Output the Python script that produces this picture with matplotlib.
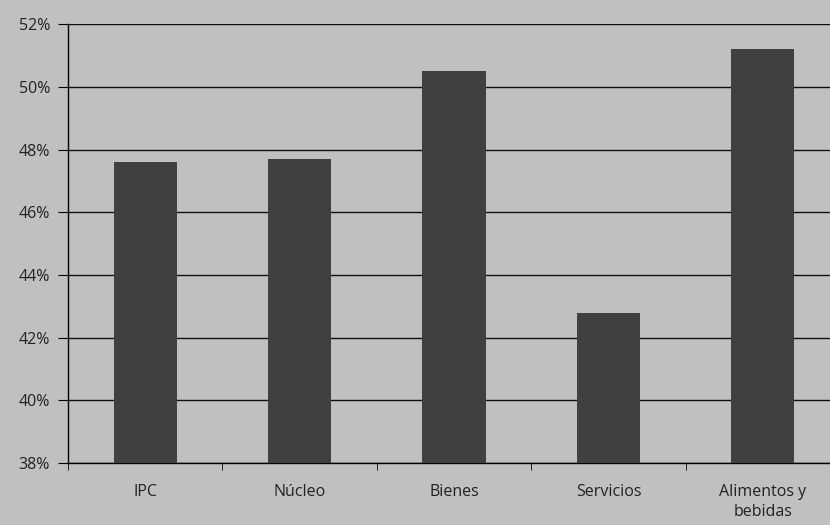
import matplotlib
matplotlib.use('Agg')
import matplotlib.pyplot as plt
from matplotlib.ticker import FuncFormatter, FixedLocator

# Data
categorias = ['IPC', 'Núcleo', 'Bienes', 'Servicios', 'Alimentos y\nbebidas']
valores = [47.6, 47.7, 50.5, 42.8, 51.2]
y_ticks = [38, 40, 42, 44, 46, 48, 50, 52]

bg = '#c0c0c0'
bar_color = '#404040'

plt.rcParams['font.family'] = ['Open Sans', 'DejaVu Sans']

fig = plt.figure(figsize=(8.3, 5.25), dpi=100, facecolor=bg)
ax = fig.add_axes([0.082, 0.118, 1.012 - 0.082, 0.954 - 0.118])
ax.set_facecolor(bg)

x = list(range(len(categorias)))
ax.bar(x, [v - 38 for v in valores], bottom=38, width=0.41, color=bar_color, zorder=3)

ax.set_ylim(38, 52)
ax.set_xlim(-0.5, len(categorias) - 0.5)
ax.set_yticks(y_ticks)
ax.yaxis.set_major_formatter(FuncFormatter(lambda v, p: f'{v:.0f}%'))
ax.grid(axis='y', color='#111111', linewidth=1.0, zorder=1)

ax.set_xticks(x)
ax.set_xticklabels(categorias, fontsize=11.5, color='#222222', linespacing=1.35)
ax.xaxis.set_minor_locator(FixedLocator([i - 0.5 for i in range(len(categorias) + 1)]))
ax.tick_params(axis='x', which='major', length=0, pad=15)
ax.tick_params(axis='x', which='minor', length=5, direction='out', color='black')
ax.tick_params(axis='y', length=7, direction='out', color='black', labelsize=11.5,
               labelcolor='#222222', pad=6)

for s in ['top', 'right']:
    ax.spines[s].set_visible(False)
for s in ['left', 'bottom']:
    ax.spines[s].set_color('black')
    ax.spines[s].set_linewidth(1.0)

fig.savefig('out.png', dpi=100, facecolor=bg)
